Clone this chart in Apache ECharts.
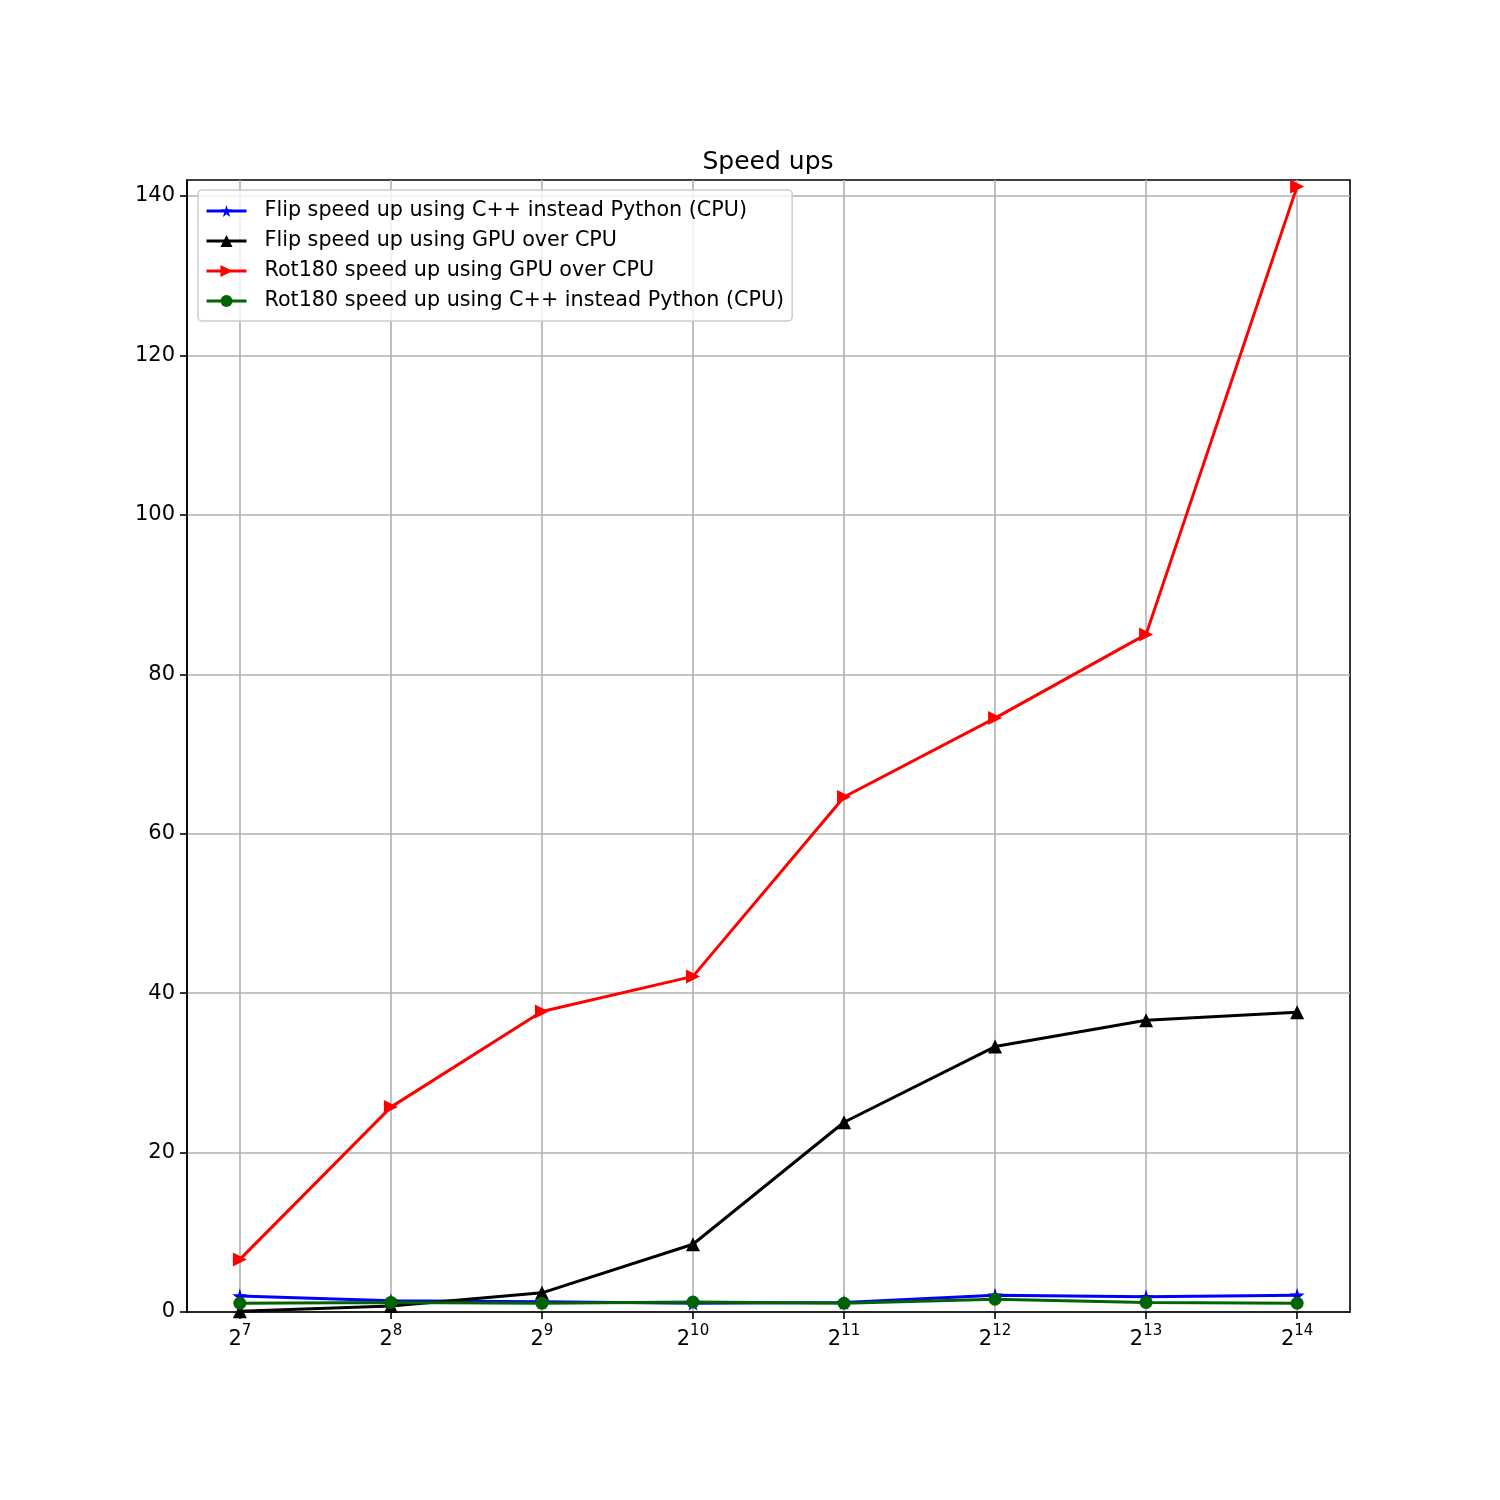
<!DOCTYPE html>
<html lang="en">
<head>
    <meta charset="UTF-8">
    <title>Speed ups</title>
    <style>
        html,body{
            margin: 0;
            padding: 0;
            background: #fff;
        }
        #chartmain{
            width: 1500px;
            height: 1500px;
        }
    </style>
</head>
<body>
<div id="chartmain"></div>
<script src="https://cdn.jsdelivr.net/npm/echarts@6/dist/echarts.min.js"></script>
<script type="text/javascript">
    // exponents of the image size (2^n)
    var exps = [7, 8, 9, 10, 11, 12, 13, 14];
    var yTicks = [0, 20, 40, 60, 80, 100, 120, 140];

    var flipCpp = [2.0, 1.4, 1.3, 1.1, 1.2, 2.1, 1.9, 2.1];
    var flipGpu = [0.1, 0.75, 2.4, 8.5, 23.8, 33.3, 36.6, 37.6];
    var rotGpu  = [6.6, 25.7, 37.7, 42.1, 64.6, 74.5, 85.0, 141.2];
    var rotCpp  = [1.1, 1.2, 1.1, 1.25, 1.1, 1.6, 1.2, 1.1];

    var names = [
        'Flip speed up using C++ instead Python (CPU)',
        'Flip speed up using GPU over CPU',
        'Rot180 speed up using GPU over CPU',
        'Rot180 speed up using C++ instead Python (CPU)'
    ];

    var font = 'DejaVu Sans';
    var star = 'path://M50,0 L61,35 L98,35 L68,57 L79,91 L50,70 L21,91 L32,57 L2,35 L39,35 Z';

    function pairs(vals){
        var out = [];
        for (let i = 0; i < exps.length; i++) {
            out.push([exps[i], vals[i]]);
        }
        return out;
    }

    function mkSeries(name, vals, color, symbol, size, rotate){
        return {
            name: name,
            type: 'line',
            data: pairs(vals),
            symbol: symbol,
            symbolSize: size,
            symbolRotate: rotate || 0,
            showAllSymbol: true,
            lineStyle: { color: color, width: 3 },
            itemStyle: { color: color, borderWidth: 0 },
            emphasis: { disabled: true },
            animation: false
        };
    }

    var option = {
        backgroundColor: '#fff',
        title: {
            text: 'Speed ups',
            left: 763,
            textAlign: 'center',
            top: 145,
            textStyle: { fontFamily: font, fontSize: 25, fontWeight: 'normal', color: '#000' }
        },
        legend: {
            orient: 'vertical',
            left: 198,
            top: 190,
            padding: [10, 8, 9, 7],
            itemWidth: 40,
            itemHeight: 15,
            itemGap: 8,
            backgroundColor: 'rgba(255,255,255,0.8)',
            borderColor: '#cccccc',
            borderWidth: 1.5,
            borderRadius: 4,
            lineStyle: { width: 3 },
            textStyle: { fontFamily: font, fontSize: 20.7, lineHeight: 22, color: '#000', padding: [0, 0, 0, 13] },
            data: names
        },
        grid: {
            left: 187,
            right: 150,
            top: 180,
            bottom: 188,
            show: true,
            borderColor: '#000',
            borderWidth: 1.6,
            backgroundColor: 'transparent'
        },
        xAxis: {
            type: 'value',
            min: 6.65,
            max: 14.35,
            axisLine: { show: true, onZero: false, lineStyle: { color: '#000', width: 1.6 } },
            axisTick: { show: true, length: 7, customValues: exps, lineStyle: { color: '#000', width: 1.6 } },
            splitLine: { show: true, lineStyle: { color: '#b0b0b0', width: 1.6 } },
            axisLabel: {
                customValues: exps,
                margin: 12,
                formatter: function (v) { return '{b|2}{s|' + v + '}'; },
                rich: {
                    b: { fontFamily: font, fontSize: 21, color: '#000', lineHeight: 26, verticalAlign: 'bottom' },
                    s: { fontFamily: font, fontSize: 15, color: '#000', lineHeight: 26, verticalAlign: 'top' }
                }
            }
        },
        yAxis: {
            type: 'value',
            min: 0,
            max: 142,
            interval: 20,
            axisLine: { show: true, lineStyle: { color: '#000', width: 1.6 } },
            axisTick: { show: true, length: 7, customValues: yTicks, lineStyle: { color: '#000', width: 1.6 } },
            splitLine: { show: true, lineStyle: { color: '#b0b0b0', width: 1.6 } },
            axisLabel: {
                customValues: yTicks,
                margin: 12,
                fontFamily: font,
                fontSize: 21,
                color: '#000'
            }
        },
        series: [
            mkSeries(names[0], flipCpp, '#0000ff', star, 15),
            mkSeries(names[1], flipGpu, '#000000', 'triangle', 14),
            mkSeries(names[2], rotGpu, '#ff0000', 'triangle', 14, -90),
            mkSeries(names[3], rotCpp, '#006400', 'circle', 13)
        ]
    };

    var myChart = echarts.init(document.getElementById('chartmain'));
    myChart.setOption(option);
</script>
</body>
</html>
